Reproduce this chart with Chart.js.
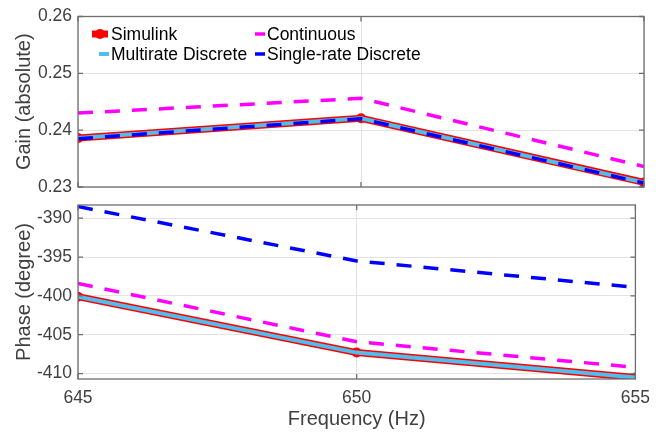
<!DOCTYPE html>
<html><head><meta charset="utf-8">
<script src="https://cdn.jsdelivr.net/npm/chart.js@4.4.1/dist/chart.umd.min.js"></script>
<style>
html,body{margin:0;padding:0;background:#fff;}
#wrap{position:relative;width:659px;height:434px;overflow:hidden;}
canvas{position:absolute;left:0;top:0;}
</style></head><body>
<div id="wrap"><canvas id="c1" width="659" height="434"></canvas><canvas id="c2" width="659" height="434"></canvas></div>
<script>
const freq = [645, 650, 655];
const freqTicks = [645, 650, 655];
const gainSimulink = [0.2386, 0.2421, 0.2308];
const gainContinuous = [0.2430, 0.2456, 0.2336];
const gainMultirate = [0.2386, 0.2421, 0.2308];
const gainSingle = [0.2385, 0.2420, 0.2307];
const gainTicks = [0.23, 0.24, 0.25, 0.26];
const phaseSimulink = [-400.1, -407.3, -410.5];
const phaseContinuous = [-398.4, -405.9, -409.2];
const phaseMultirate = [-400.1, -407.3, -410.5];
const phaseSingle = [-388.5, -395.5, -398.9];
const phaseTicks = [-410, -405, -400, -395, -390];
const legendLabels = ['Simulink', 'Continuous', 'Multirate Discrete', 'Single-rate Discrete'];

const FONT = '"Liberation Sans", Arial, Helvetica, sans-serif';
const AX = '#404040';
const GRID = '#e3e3e3';
const BOX = '#6e6e6e';
const C_SIM = '#ff0000', C_CON = '#ff00ff', C_MUL = '#4dbeee', C_SIN = '#0000ff';
const DASH = [15, 12];

function pts(arr){ return freq.map((f,i)=>({x:f, y:arr[i]})); }

function datasets(sim, con, mul, sin){
  return [
    {label:legendLabels[0], data:pts(sim), borderColor:C_SIM, backgroundColor:C_SIM, borderWidth:7,
     pointRadius:5, pointBackgroundColor:C_SIM, pointBorderWidth:0, order:3, clip:0},
    {label:legendLabels[1], data:pts(con), borderColor:C_CON, borderWidth:3.5, borderDash:DASH,
     pointRadius:0, order:2, clip:0},
    {label:legendLabels[2], data:pts(mul), borderColor:C_MUL, borderWidth:4,
     pointRadius:0, order:1, clip:0},
    {label:legendLabels[3], data:pts(sin), borderColor:C_SIN, borderWidth:3.5, borderDash:DASH,
     pointRadius:0, order:0, clip:0}
  ];
}

const boxPlugin = {
  id:'box',
  afterDraw(chart){
    const {ctx, chartArea:a, scales} = chart;
    ctx.save();
    ctx.strokeStyle = BOX; ctx.lineWidth = 1.3;
    ctx.beginPath();
    scales.y.ticks.forEach(t=>{
      const y = scales.y.getPixelForValue(t.value);
      ctx.moveTo(a.left, y); ctx.lineTo(a.left+5, y);
      ctx.moveTo(a.right, y); ctx.lineTo(a.right-5, y);
    });
    scales.x.ticks.forEach(t=>{
      const x = scales.x.getPixelForValue(t.value);
      ctx.moveTo(x, a.top); ctx.lineTo(x, a.top+5);
      ctx.moveTo(x, a.bottom); ctx.lineTo(x, a.bottom-5);
    });
    ctx.stroke();
    ctx.strokeRect(a.left, a.top, a.right-a.left, a.bottom-a.top);
    ctx.restore();
  }
};

const legendPlugin = {
  id:'inlegend',
  afterDraw(chart){
    const ctx = chart.ctx;
    ctx.save();
    ctx.font = '17.5px ' + FONT;
    ctx.textBaseline = 'middle';
    ctx.textAlign = 'left';
    ctx.strokeStyle = C_SIM; ctx.lineWidth = 7;
    ctx.beginPath(); ctx.moveTo(92, 34); ctx.lineTo(108, 34); ctx.stroke();
    ctx.fillStyle = C_SIM; ctx.beginPath(); ctx.arc(100, 34, 5, 0, Math.PI*2); ctx.fill();
    ctx.strokeStyle = C_CON; ctx.lineWidth = 3.5;
    ctx.beginPath(); ctx.moveTo(255, 34); ctx.lineTo(265, 34); ctx.stroke();
    ctx.strokeStyle = C_MUL; ctx.lineWidth = 4;
    ctx.beginPath(); ctx.moveTo(99, 54); ctx.lineTo(109, 54); ctx.stroke();
    ctx.strokeStyle = C_SIN; ctx.lineWidth = 3.5;
    ctx.beginPath(); ctx.moveTo(255, 54); ctx.lineTo(265, 54); ctx.stroke();
    ctx.fillStyle = '#000';
    ctx.fillText(legendLabels[0], 111, 35);
    ctx.fillText(legendLabels[1], 267, 35);
    ctx.fillText(legendLabels[2], 111, 55);
    ctx.fillText(legendLabels[3], 267, 55);
    ctx.restore();
  }
};

function makeOptions(isTop, yTicks, yMin, yMax, yTitle, fmt){
  return {
    responsive:false, animation:false, devicePixelRatio:1,
    layout:{padding:{left:0, right:15, top:isTop?14:205, bottom:isTop?247:0}},
    plugins:{legend:{display:false}, tooltip:{enabled:false}},
    scales:{
      x:{
        type:'linear', min:645, max:655,
        afterBuildTicks:s=>{ s.ticks = freqTicks.map(v=>({value:v})); },
        afterFit:s=>{ s.height = isTop ? 0 : 55; },
        grid:{color:GRID, lineWidth:1, drawTicks:false},
        border:{display:false},
        ticks:{display:!isTop, padding:9, color:AX, font:{family:FONT, size:17.5}, maxRotation:0,
               callback:v=>String(v)},
        title:{display:!isTop, text:'Frequency (Hz)', color:AX, font:{family:FONT, size:20},
               padding:{top:0, bottom:3}}
      },
      y:{
        type:'linear', min:yMin, max:yMax,
        afterBuildTicks:s=>{ s.ticks = yTicks.map(v=>({value:v})); },
        afterFit:s=>{ s.width = 78; },
        grid:{color:GRID, lineWidth:1, drawTicks:false},
        border:{display:false},
        ticks:{padding:6, color:AX, font:{family:FONT, size:17.5}, callback:fmt},
        title:{display:true, text:yTitle, color:AX, font:{family:FONT, size:20},
               padding:{top:12, bottom:0}}
      }
    }
  };
}

new Chart(document.getElementById('c1'), {
  type:'line',
  data:{datasets:datasets(gainSimulink, gainContinuous, gainMultirate, gainSingle)},
  options:makeOptions(true, gainTicks, 0.23, 0.26, 'Gain (absolute)', v=>Number(v).toFixed(2)),
  plugins:[boxPlugin, legendPlugin]
});
new Chart(document.getElementById('c2'), {
  type:'line',
  data:{datasets:datasets(phaseSimulink, phaseContinuous, phaseMultirate, phaseSingle)},
  options:makeOptions(false, phaseTicks, -410.7, -388.3, 'Phase (degree)', v=>String(Math.round(v))),
  plugins:[boxPlugin]
});
</script>
</body></html>
